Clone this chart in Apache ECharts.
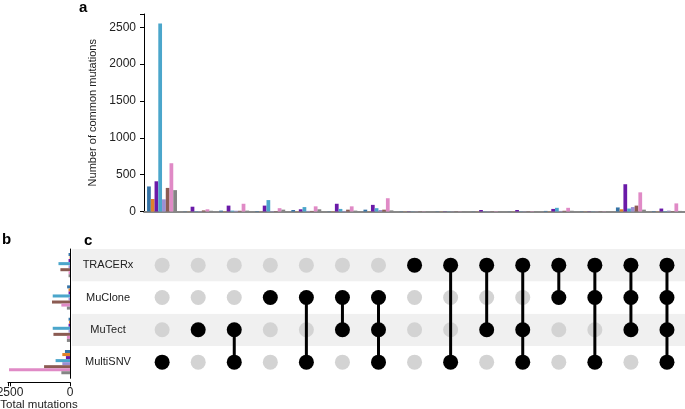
<!DOCTYPE html>
<html>
<head>
<meta charset="utf-8">
<script src="https://cdn.jsdelivr.net/npm/echarts@6/dist/echarts.min.js"></script>
<style>
  html, body { margin: 0; padding: 0; background: #fff; }
  #chart { width: 685px; height: 409px; }
</style>
</head>
<body>
<div id="chart"></div>
<script>
// sets, top to bottom in the matrix
const sets = ['TRACERx', 'MuClone', 'MuTect', 'MultiSNV'];

// intersections, left to right
const intersections = [
  ['MultiSNV'],
  ['MuTect'],
  ['MuTect', 'MultiSNV'],
  ['MuClone'],
  ['MuClone', 'MultiSNV'],
  ['MuClone', 'MuTect'],
  ['MuClone', 'MuTect', 'MultiSNV'],
  ['TRACERx'],
  ['TRACERx', 'MultiSNV'],
  ['TRACERx', 'MuTect'],
  ['TRACERx', 'MuTect', 'MultiSNV'],
  ['TRACERx', 'MuClone'],
  ['TRACERx', 'MuClone', 'MultiSNV'],
  ['TRACERx', 'MuClone', 'MuTect'],
  ['TRACERx', 'MuClone', 'MuTect', 'MultiSNV'],
];

const groupNames = ['G1', 'G2', 'G3', 'G4', 'G5', 'G6', 'G7', 'G8'];
const groupColors = ['#3573a6', '#e0812b', '#6a1aa8', '#4ba6cb', '#9b8fd4', '#8b5b52', '#e08ac6', '#858585'];

// common mutations per intersection (panel a)
const commonG1 = [340, 3, 12, 6, 20, 3, 25, 3, 3, 2, 2, 8, 3, 55, 6];
const commonG2 = [170, 2, 3, 2, 3, 3, 3, 2, 2, 2, 2, 3, 2, 30, 3];
const commonG3 = [410, 65, 80, 80, 30, 105, 90, 3, 3, 20, 20, 35, 3, 370, 40];
const commonG4 = [2550, 5, 12, 155, 60, 35, 45, 3, 3, 3, 3, 50, 3, 40, 6];
const commonG5 = [165, 5, 10, 5, 8, 8, 20, 2, 2, 3, 3, 8, 2, 60, 12];
const commonG6 = [320, 15, 10, 5, 8, 25, 25, 3, 3, 3, 3, 10, 3, 80, 5];
const commonG7 = [655, 30, 105, 45, 70, 70, 180, 3, 3, 5, 5, 50, 3, 260, 110];
const commonG8 = [290, 10, 12, 25, 30, 12, 15, 3, 3, 3, 3, 10, 3, 25, 8];
const common = [commonG1, commonG2, commonG3, commonG4, commonG5, commonG6, commonG7, commonG8];

// total mutations per set (panel b), in sets order
const totalG1 = [60, 120, 60, 210];
const totalG2 = [15, 60, 40, 320];
const totalG3 = [60, 60, 60, 170];
const totalG4 = [480, 720, 720, 600];
const totalG5 = [60, 60, 60, 320];
const totalG6 = [400, 750, 690, 1080];
const totalG7 = [60, 360, 130, 2540];
const totalG8 = [60, 130, 130, 360];
const totals = [totalG1, totalG2, totalG3, totalG4, totalG5, totalG6, totalG7, totalG8];

const yTicksA = [0, 500, 1000, 1500, 2000, 2500];
const xTicksB = [0, 2500];

const FONT = '"Liberation Sans", Arial, sans-serif';
const txt = '#222';

const chart = echarts.init(document.getElementById('chart'));
const colIdx = intersections.map((_, i) => i);
const setsBottomUp = sets.slice().reverse();

const series = [];

common.forEach((vals, g) => {
  series.push({
    name: groupNames[g],
    type: 'bar',
    xAxisIndex: 0, yAxisIndex: 0,
    data: vals,
    barCategoryGap: '17%',
    barGap: '0%',
    itemStyle: { color: groupColors[g] },
    silent: true,
  });
});

totals.forEach((vals, g) => {
  series.push({
    name: groupNames[g] + ' total',
    type: 'bar',
    xAxisIndex: 1, yAxisIndex: 1,
    data: vals.map((v, k) => [v, sets[k]]),
    barCategoryGap: '25%',
    barGap: '0%',
    itemStyle: { color: groupColors[g] },
    silent: true,
  });
});

// matrix dots
const allDots = [];
const onDots = [];
intersections.forEach((members, i) => {
  sets.forEach(s => {
    (members.includes(s) ? onDots : allDots).push([i, s]);
  });
});
series.push({
  type: 'scatter', xAxisIndex: 2, yAxisIndex: 2,
  data: allDots, symbolSize: 15,
  itemStyle: { color: '#d3d3d3', opacity: 1 }, silent: true,
});
intersections.forEach((members, i) => {
  if (members.length < 2) return;
  const rows = members.map(m => sets.indexOf(m));
  const top = sets[Math.min(...rows)];
  const bot = sets[Math.max(...rows)];
  series.push({
    type: 'line', xAxisIndex: 2, yAxisIndex: 2,
    data: [[i, top], [i, bot]],
    symbol: 'none',
    lineStyle: { color: '#000', width: 3 },
    silent: true, z: 3,
  });
});
series.push({
  type: 'scatter', xAxisIndex: 2, yAxisIndex: 2,
  data: onDots, symbolSize: 15,
  itemStyle: { color: '#000', opacity: 1 }, silent: true, z: 4,
});

chart.setOption({
  animation: false,
  backgroundColor: '#fff',
  textStyle: { fontFamily: FONT },
  grid: [
    { left: 144, right: 0, top: 14, bottom: 197.5, outerBoundsMode: 'none' },
    { left: 8, right: 615, top: 249, height: 129.3, outerBoundsMode: 'none' },
    { left: 72, right: 0, top: 249, height: 129.3, outerBoundsMode: 'none' },
  ],
  xAxis: [
    {
      gridIndex: 0, type: 'category', data: colIdx,
      axisLine: { lineStyle: { color: '#888', width: 2 } },
      axisTick: { show: false }, axisLabel: { show: false },
    },
    {
      gridIndex: 1, type: 'value', inverse: true,
      min: 0, max: 2583, interval: 2500,
      offset: 4,
      axisLine: { show: true, lineStyle: { color: '#000', width: 1 } },
      axisTick: { show: true, length: 4, lineStyle: { color: '#000' } },
      axisLabel: {
        color: txt, fontSize: 12, margin: 4,
        formatter: v => xTicksB.includes(v) ? String(v) : '',
      },
      splitLine: { show: false },
      name: 'Total mutations', nameLocation: 'middle', nameGap: 17,
      nameTextStyle: { color: txt, fontSize: 11.5 },
    },
    {
      gridIndex: 2, type: 'value', min: -2.5, max: 14.5,
      show: false, splitLine: { show: false },
    },
  ],
  yAxis: [
    {
      gridIndex: 0, type: 'value', min: 0, max: 2680, interval: 500,
      axisLine: { show: true, lineStyle: { color: '#000', width: 1 } },
      axisTick: { show: true, length: 4, lineStyle: { color: '#000' } },
      axisLabel: {
        color: txt, fontSize: 12, margin: 8,
        formatter: v => yTicksA.includes(v) ? String(v) : '',
      },
      splitLine: { show: false },
      name: 'Number of common mutations', nameLocation: 'middle', nameGap: 39,
      nameTextStyle: { color: txt, fontSize: 11 },
    },
    {
      gridIndex: 1, type: 'category', data: setsBottomUp, position: 'right',
      axisLine: { show: true, lineStyle: { color: '#000', width: 1 } },
      axisTick: { show: false }, axisLabel: { show: false },
    },
    {
      gridIndex: 2, type: 'category', data: setsBottomUp,
      axisLine: { show: false }, axisTick: { show: false },
      axisLabel: { inside: true, margin: 36, align: 'center', color: txt, fontSize: 11 },
      splitArea: { show: true, areaStyle: { color: ['#ffffff', '#f0f0f0'] } },
    },
  ],
  graphic: [
    { type: 'text', left: 79, top: 0, style: { text: 'a', font: 'bold 15px ' + FONT, fill: '#000' } },
    { type: 'text', left: 2, top: 232, style: { text: 'b', font: 'bold 15px ' + FONT, fill: '#000' } },
    { type: 'text', left: 84, top: 233, style: { text: 'c', font: 'bold 15px ' + FONT, fill: '#000' } },
  ],
  series,
});
</script>
</body>
</html>
